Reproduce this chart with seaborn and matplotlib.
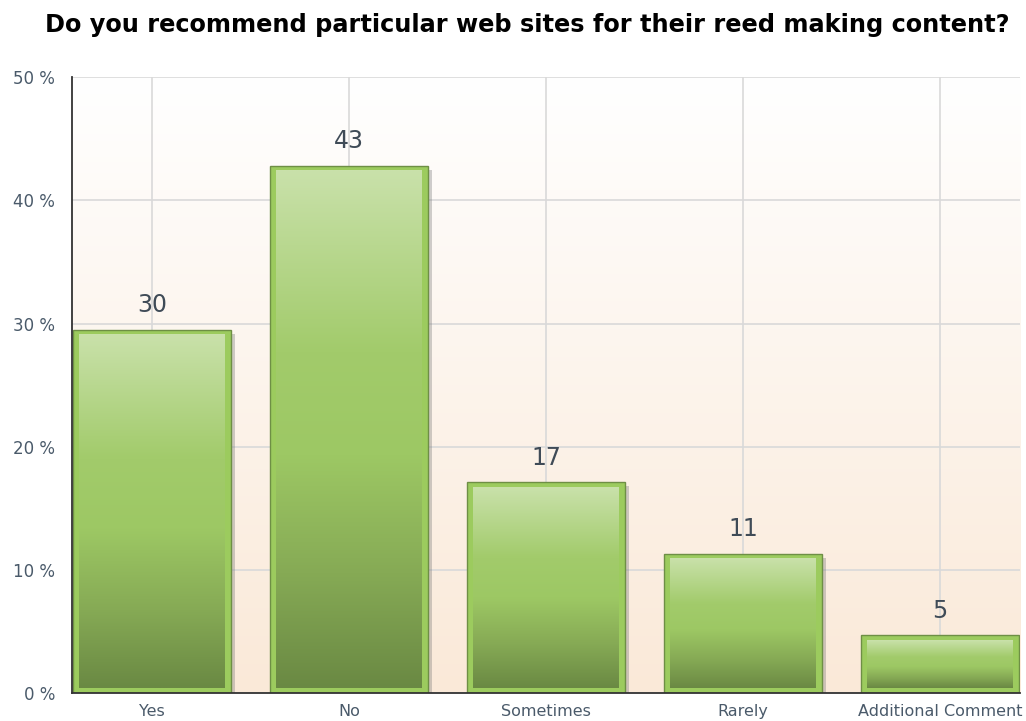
"""
Bar chart: web sites recommended for reed making content
"""

import numpy as np
import pandas as pd
import seaborn as sns
import matplotlib.pyplot as plt
from matplotlib.colors import LinearSegmentedColormap
from matplotlib.patches import Rectangle

# Data
categories = ['Yes', 'No', 'Sometimes', 'Rarely', 'Additional Comment']
percents = [29.5, 42.8, 17.1, 11.3, 4.7]
bar_labels = ['30', '43', '17', '11', '5']
y_ticks = [0, 10, 20, 30, 40, 50]
y_tick_labels = ['0 %', '10 %', '20 %', '30 %', '40 %', '50 %']

df = pd.DataFrame({'answer': categories, 'pct': percents})

sns.set_style('white')
plt.rcParams['font.family'] = ['DejaVu Sans']

fig = plt.figure(figsize=(10.26, 7.21), dpi=100)
ax = fig.add_axes([0.0702, 0.0388, 0.924, 0.854])

# Bars (plain fill, gradient added on top)
sns.barplot(data=df, x='answer', y='pct', color='#9CCB5E', width=0.8,
            saturation=1, edgecolor='#6E8F45', linewidth=1.0, ax=ax, zorder=3)

ax.set_xlim(-0.405, 4.405)
ax.set_ylim(0, 50)

# Background gradient
bg_cmap = LinearSegmentedColormap.from_list('bg', ['#FAE9D8', '#FFFFFF'])
bg = np.linspace(0, 1, 256).reshape(-1, 1)
ax.imshow(bg, cmap=bg_cmap, origin='lower', aspect='auto',
          extent=[-0.405, 4.405, 0, 50], zorder=0)

# Bar gradients and shadows
bar_cmap = LinearSegmentedColormap.from_list(
    'bar', [(0.0, '#6A8943'), (0.22, '#86AA55'), (0.45, '#9DC864'),
            (0.65, '#A2CB6B'), (1.0, '#C9E1AA')])
grad = np.linspace(0, 1, 256).reshape(-1, 1)
px_x = 4.81 / 948.0   # data units per pixel in x
px_y = 50.0 / 616.0   # data units per pixel in y
for p in ax.patches:
    x0, w = p.get_x(), p.get_width()
    h = p.get_height()
    ax.add_patch(Rectangle((x0 + 4 * px_x, -4 * px_y), w, h, facecolor='#777777',
                           alpha=0.35, edgecolor='none', zorder=2))
    ax.imshow(grad, cmap=bar_cmap, origin='lower', aspect='auto',
              extent=[x0 + 6 * px_x, x0 + w - 6 * px_x, 5 * px_y, h - 5 * px_y],
              zorder=4)

# Value labels
for i, (v, lab) in enumerate(zip(percents, bar_labels)):
    ax.text(i, v + 2.0, lab, ha='center', va='center', fontsize=17,
            color='#3F4B57', zorder=5)

# Grid, ticks, spines
ax.set_yticks(y_ticks)
ax.set_yticklabels(y_tick_labels)
ax.set_axisbelow(True)
ax.grid(True, color='#D9D9D9', linewidth=1.2, zorder=1)
ax.tick_params(axis='y', length=7, width=1.2, color='#BBBBBB', labelsize=12,
               labelcolor='#4A5A6A', pad=5)
ax.tick_params(axis='x', length=6, width=1.5, color='#333333', labelsize=11.5,
               labelcolor='#4A5A6A', pad=2)
for s in ['top', 'right']:
    ax.spines[s].set_visible(False)
for s in ['left', 'bottom']:
    ax.spines[s].set_color('#333333')
    ax.spines[s].set_linewidth(1.3)
    ax.spines[s].set_zorder(6)
ax.set_xlabel('')
ax.set_ylabel('')

fig.text(0.514, 0.965, 'Do you recommend particular web sites for their reed making content?',
         ha='center', va='center', fontsize=17.3, fontweight='bold', color='#000000')

fig.savefig('out.png', dpi=100)
